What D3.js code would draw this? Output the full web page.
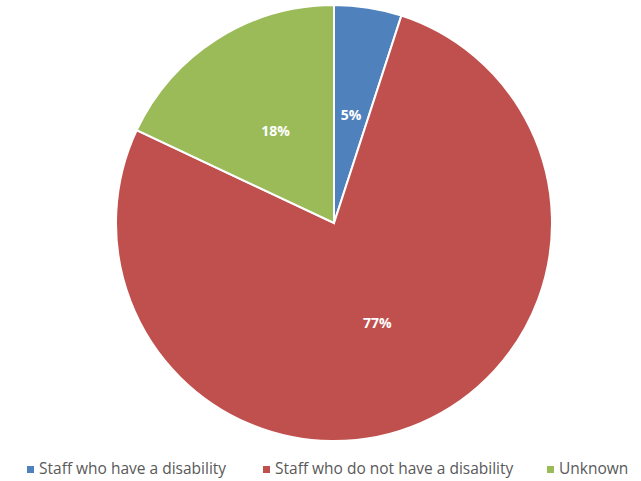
<!DOCTYPE html>
<html>
<head>
<meta charset="utf-8">
<script src="https://cdn.jsdelivr.net/npm/d3@7"></script>
<style>
  body { margin: 0; background: #fff; }
  svg { display: block; }
</style>
</head>
<body>
<div id="chart"></div>
<script>
// Data
const categories = ["Staff who have a disability", "Staff who do not have a disability", "Unknown"];
const values = [5, 77, 18];
const colors = ["#4F81BD", "#C0504D", "#9BBB59"];

const width = 641;
const height = 481;
const cx = 334, cy = 223, radius = 218;

const svg = d3.select("#chart")
  .append("svg")
  .attr("width", width)
  .attr("height", height);

const data = categories.map((c, i) => ({ name: c, value: values[i], color: colors[i] }));

const pie = d3.pie()
  .value(d => d.value)
  .sort(null);

const arc = d3.arc()
  .innerRadius(0)
  .outerRadius(radius);

const g = svg.append("g")
  .attr("transform", `translate(${cx}, ${cy})`);

const arcs = pie(data);

g.selectAll("path")
  .data(arcs)
  .enter()
  .append("path")
  .attr("d", arc)
  .attr("fill", d => d.data.color)
  .attr("stroke", "#fff")
  .attr("stroke-width", 2);

// Percentage labels
g.selectAll("text")
  .data(arcs)
  .enter()
  .append("text")
  .attr("transform", d => `translate(${arc.centroid(d)})`)
  .attr("text-anchor", "middle")
  .attr("dy", "0.35em")
  .attr("fill", "#fff")
  .style("font-family", "'Open Sans', sans-serif")
  .style("font-weight", "bold")
  .style("font-size", "14px")
  .text(d => d.data.value + "%");

// Legend
const legendX = [27, 263, 547];
const legend = svg.append("g")
  .selectAll("g")
  .data(data)
  .enter()
  .append("g")
  .attr("transform", (d, i) => `translate(${legendX[i]}, 469)`);

legend.append("rect")
  .attr("x", 0)
  .attr("y", -3)
  .attr("width", 7)
  .attr("height", 7)
  .attr("fill", d => d.color);

legend.append("text")
  .attr("x", 12)
  .attr("dy", "0.35em")
  .attr("fill", "#595959")
  .style("font-family", "'Open Sans', sans-serif")
  .style("font-size", "15.5px")
  .text(d => d.name);
</script>
</body>
</html>
